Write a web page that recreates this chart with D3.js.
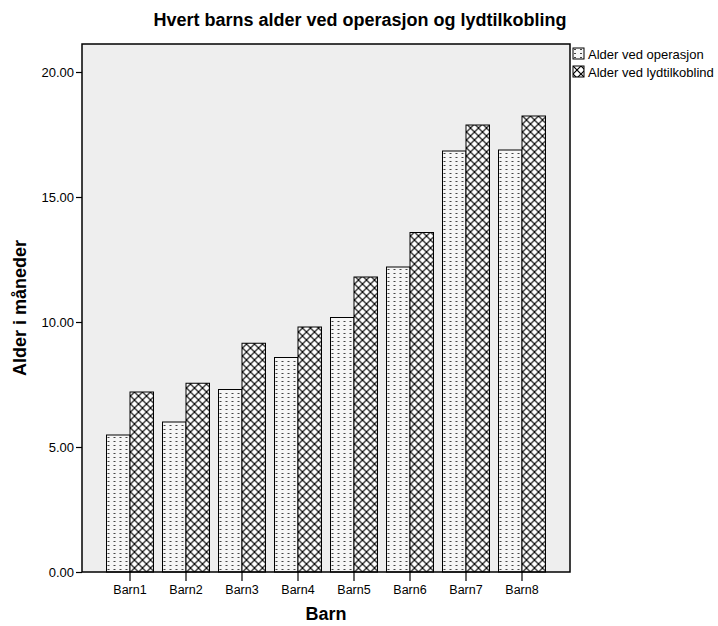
<!DOCTYPE html>
<html>
<head>
<meta charset="utf-8">
<script src="https://cdn.jsdelivr.net/npm/d3@7"></script>
<style>
  body { margin: 0; background: #fff; }
  svg { font-family: "Liberation Sans", Arial, sans-serif; }
</style>
</head>
<body>
<div id="chart"></div>
<script>
// data
const categories = ["Barn1", "Barn2", "Barn3", "Barn4", "Barn5", "Barn6", "Barn7", "Barn8"];
const seriesNames = ["Alder ved operasjon", "Alder ved lydtilkoblind"];
const operasjon = [5.48, 6.0, 7.3, 8.58, 10.18, 12.2, 16.84, 16.88];
const lydtilkobling = [7.2, 7.55, 9.15, 9.8, 11.8, 13.58, 17.88, 18.24];
const yTicks = [0, 5, 10, 15, 20];

const width = 718, height = 626;
const margin = { top: 44, right: 148, bottom: 54, left: 82 };
const plotW = width - margin.left - margin.right,
    plotH = height - margin.top - margin.bottom;

const svg = d3.select('#chart')
    .append('svg')
    .attr('width', width)
    .attr('height', height);

// fill patterns for the two series
const defs = svg.append('defs');
const dots = defs.append('pattern')
    .attr('id', 'dots')
    .attr('patternUnits', 'userSpaceOnUse')
    .attr('width', 6)
    .attr('height', 8);
dots.append('rect').attr('width', 6).attr('height', 8).attr('fill', '#f6f6f6');
dots.append('rect').attr('x', 1).attr('y', 1).attr('width', 2).attr('height', 1).attr('fill', '#444');
dots.append('rect').attr('x', 1).attr('y', 5).attr('width', 2).attr('height', 1).attr('fill', '#444');

const cross = defs.append('pattern')
    .attr('id', 'cross')
    .attr('patternUnits', 'userSpaceOnUse')
    .attr('width', 8)
    .attr('height', 8);
cross.append('rect').attr('width', 8).attr('height', 8).attr('fill', '#fff');
cross.append('path')
    .attr('d', 'M0,0 L8,8 M8,0 L0,8')
    .attr('stroke', '#000')
    .attr('stroke-width', 1.2);

const fills = ['url(#dots)', 'url(#cross)'];

const g = svg.append('g')
    .attr('transform', `translate(${margin.left},${margin.top})`);

// background of the plot
g.append('rect')
    .attr('width', plotW)
    .attr('height', plotH)
    .attr('fill', '#eeeeee');

const x = d3.scaleBand()
    .domain(categories)
    .range([0, plotW])
    .paddingInner(9 / 56)
    .paddingOuter(0.4375);

const x1 = d3.scaleBand()
    .domain(seriesNames)
    .range([0, x.bandwidth()]);

const y = d3.scaleLinear()
    .domain([0, 21.12])
    .range([plotH, 0]);

const rows = categories.map((c, i) => ({ cat: c, values: [operasjon[i], lydtilkobling[i]] }));

// bars
g.append('g')
    .selectAll('g')
    .data(rows)
    .enter()
    .append('g')
    .attr('transform', d => `translate(${x(d.cat)},0)`)
    .selectAll('rect')
    .data(d => d.values.map((v, k) => ({ key: seriesNames[k], v: v, k: k })))
    .enter()
    .append('rect')
    .attr('x', d => x1(d.key))
    .attr('y', d => y(d.v))
    .attr('width', x1.bandwidth())
    .attr('height', d => plotH - y(d.v))
    .attr('fill', d => fills[d.k])
    .attr('stroke', '#000')
    .attr('stroke-width', 1);

// frame
g.append('rect')
    .attr('width', plotW)
    .attr('height', plotH)
    .attr('fill', 'none')
    .attr('stroke', '#000')
    .attr('stroke-width', 1.5);

// y axis
const yAxis = g.append('g')
    .call(d3.axisLeft(y).tickValues(yTicks).tickFormat(d3.format('.2f')).tickSize(6).tickPadding(2));
yAxis.select('.domain').remove();
yAxis.selectAll('text').attr('font-size', 13).attr('fill', '#000').attr('font-family', 'Liberation Sans, Arial, sans-serif');
yAxis.selectAll('line').attr('stroke', '#000').attr('stroke-width', 1.2);

// x axis
const xAxis = g.append('g')
    .attr('transform', `translate(0,${plotH})`)
    .call(d3.axisBottom(x).tickSize(9).tickPadding(4));
xAxis.select('.domain').remove();
xAxis.selectAll('text').attr('font-size', 12.5).attr('fill', '#000').attr('font-family', 'Liberation Sans, Arial, sans-serif');
xAxis.selectAll('line').attr('stroke', '#000').attr('stroke-width', 1.2);

// titles
svg.append('text')
    .attr('x', 360)
    .attr('y', 26)
    .attr('text-anchor', 'middle')
    .attr('font-size', 18)
    .attr('font-weight', 'bold')
    .text('Hvert barns alder ved operasjon og lydtilkobling');

svg.append('text')
    .attr('x', 326)
    .attr('y', 620)
    .attr('text-anchor', 'middle')
    .attr('font-size', 18)
    .attr('font-weight', 'bold')
    .text('Barn');

svg.append('text')
    .attr('transform', 'translate(26,308) rotate(-90)')
    .attr('text-anchor', 'middle')
    .attr('font-size', 18)
    .attr('font-weight', 'bold')
    .text('Alder i måneder');

// legend
const legend = svg.append('g')
    .attr('transform', 'translate(573,48)');
const item = legend.selectAll('g')
    .data(seriesNames)
    .enter()
    .append('g')
    .attr('transform', (d, i) => `translate(0,${i * 18})`);
item.append('rect')
    .attr('width', 11)
    .attr('height', 11)
    .attr('fill', (d, i) => fills[i])
    .attr('stroke', '#000');
item.append('text')
    .attr('x', 15)
    .attr('y', 10.5)
    .attr('font-size', 13)
    .text(d => d);
</script>
</body>
</html>
